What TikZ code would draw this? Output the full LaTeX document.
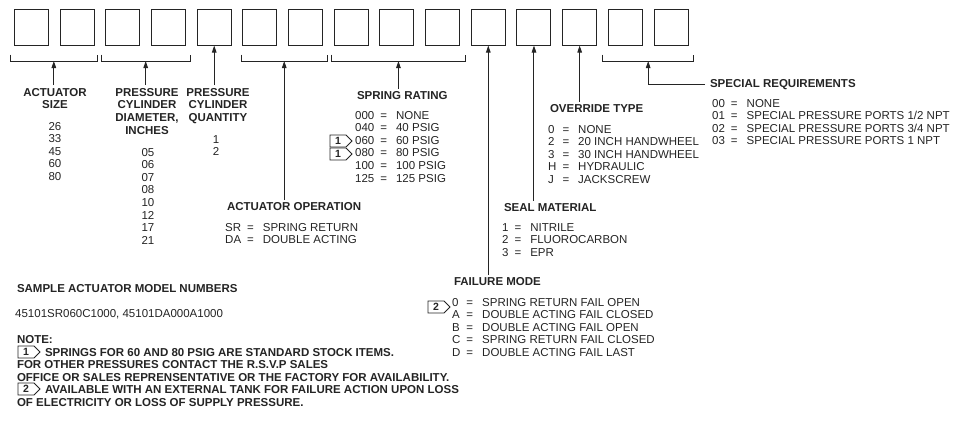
\documentclass[tikz,border=0pt]{standalone}
\usepackage{fontspec}
\setmainfont{Liberation Sans}
\usetikzlibrary{arrows.meta,shapes.symbols}
\definecolor{ink}{HTML}{242424}

\tikzset{
  codebox/.style={draw=ink, line width=1pt, minimum width=34pt, minimum height=36pt, inner sep=0pt},
  brace/.style={draw=ink, line width=1pt},
  lead/.style={draw=ink, line width=1pt, -{Triangle[length=7pt,width=4.5pt]}},
  head/.style={inner sep=0pt, outer sep=2pt, text=ink, font=\fontsize{11.5}{12.8}\selectfont\bfseries},
  list/.style={inner sep=0pt, text=ink, font=\fontsize{11.5}{12.6}\selectfont},
  badge/.style={draw=ink, line width=0.8pt, signal, signal to=east, signal pointer angle=90,
    inner xsep=3pt, inner ysep=0.5pt, minimum width=22pt, minimum height=12pt, text=ink,
    font=\fontsize{10.5}{10.5}\selectfont\bfseries},
}
\newcommand{\eqs}{\hspace{6pt}=\hspace{9pt}}

\begin{document}
\begin{tikzpicture}[x=1pt,y=-1pt]
\useasboundingbox (0,0) rectangle (956,434);

% code boxes
\foreach \i in {1,...,15}
  \node[codebox] (b\i) at ({31.5+(\i-1)*45.68},27) {};

% brackets under the grouped boxes
\draw[brace] ([xshift=-4pt,yshift=-9pt]b1.south west) -- ++(0,6.5) -| coordinate[pos=0.25] (br1) ([xshift=3pt,yshift=-9pt]b2.south east);
\draw[brace] ([xshift=-4pt,yshift=-9pt]b3.south west) -- ++(0,6.5) -| coordinate[pos=0.25] (br2) ([xshift=4pt,yshift=-9pt]b4.south east);
\draw[brace] ([xshift=-1pt,yshift=-9pt]b6.south west) -- ++(0,6.5) -| coordinate[pos=0.25] (br3) ([xshift=4pt,yshift=-9pt]b7.south east);
\draw[brace] ([xshift=-2pt,yshift=-9pt]b8.south west) -- ++(0,6.5) -| coordinate[pos=0.25] (br4) ([xshift=5pt,yshift=-9pt]b10.south east);
\draw[brace] ([xshift=-5pt,yshift=-9pt]b14.south west) -- ++(0,6.5) -| coordinate[pos=0.25] (br5) ([xshift=5pt,yshift=-9pt]b15.south east);

% actuator size
\node[head, anchor=base] (hsize) at (55,96) {\begin{tabular}[t]{@{}c@{}}ACTUATOR\\SIZE\end{tabular}};
\node[list, anchor=base] (vsize) at (55,130) {\begin{tabular}[t]{@{}c@{}}26\\33\\45\\60\\80\end{tabular}};

% cylinder diameter
\node[head, anchor=base] (hdiam) at (147,96) {\begin{tabular}[t]{@{}c@{}}PRESSURE\\CYLINDER\\DIAMETER,\\INCHES\end{tabular}};
\node[list, anchor=base] (vdiam) at (148,156) {\begin{tabular}[t]{@{}c@{}}05\\06\\07\\08\\10\\12\\17\\21\end{tabular}};

% cylinder quantity
\node[head, anchor=base] (hqty) at (218,96) {\begin{tabular}[t]{@{}c@{}}PRESSURE\\CYLINDER\\QUANTITY\end{tabular}};
\node[list, anchor=base] (vqty) at (216,143) {\begin{tabular}[t]{@{}c@{}}1\\2\end{tabular}};

% actuator operation
\node[head, anchor=base west] (hoper) at (225,210) {ACTUATOR OPERATION};
\node[list, anchor=base west] (voper) at (225,231) {\begin{tabular}[t]{@{}l@{\eqs}l@{}}SR & SPRING RETURN\\DA & DOUBLE ACTING\end{tabular}};

% spring rating
\node[head, anchor=base west] (hspring) at (355,99) {SPRING RATING};
\node[list, anchor=base west] (vspring) at (355,119) {\begin{tabular}[t]{@{}l@{\eqs}l@{}}000 & NONE\\040 & 40 PSIG\\060 & 60 PSIG\\080 & 80 PSIG\\100 & 100 PSIG\\125 & 125 PSIG\end{tabular}};
\node[badge] (n1a) at (338,141) {1};
\node[badge] (n1b) at (338,154) {1};

% override type
\node[head, anchor=base west] (hover) at (548,112) {OVERRIDE TYPE};
\node[list, anchor=base west] (vover) at (548,133) {\begin{tabular}[t]{@{}l@{\eqs}l@{}}0 & NONE\\2 & 20 INCH HANDWHEEL\\3 & 30 INCH HANDWHEEL\\H & HYDRAULIC\\J & JACKSCREW\end{tabular}};

% seal material
\node[head, anchor=base west] (hseal) at (502,211) {SEAL MATERIAL};
\node[list, anchor=base west] (vseal) at (502,231) {\begin{tabular}[t]{@{}l@{\eqs}l@{}}1 & NITRILE\\2 & FLUOROCARBON\\3 & EPR\end{tabular}};

% failure mode
\node[head, anchor=base west] (hfail) at (452,285) {FAILURE MODE};
\node[list, anchor=base west] (vfail) at (452,306) {\begin{tabular}[t]{@{}l@{\eqs}l@{}}0 & SPRING RETURN FAIL OPEN\\A & DOUBLE ACTING FAIL CLOSED\\B & DOUBLE ACTING FAIL OPEN\\C & SPRING RETURN FAIL CLOSED\\D & DOUBLE ACTING FAIL LAST\end{tabular}};
\node[badge] (n2) at (436,307) {2};

% special requirements
\node[head, anchor=base west] (hspec) at (708,87) {SPECIAL REQUIREMENTS};
\node[list, anchor=base west] (vspec) at (712,107) {\begin{tabular}[t]{@{}l@{\eqs}l@{}}00 & NONE\\01 & SPECIAL PRESSURE PORTS 1/2 NPT\\02 & SPECIAL PRESSURE PORTS 3/4 NPT\\03 & SPECIAL PRESSURE PORTS 1 NPT\end{tabular}};

% leaders
\draw[lead] (br1 |- hsize.north) -- (br1);
\draw[lead] (br2 |- hdiam.north) -- (br2);
\draw[lead] (b5.south |- hqty.north) -- (b5.south);
\draw[lead] (br3 |- hoper.north) -- (br3);
\draw[lead] (br4 |- hspring.north) -- (br4);
\draw[lead] (b11.south |- hfail.north) -- (b11.south);
\draw[lead] (b12.south |- hseal.north) -- (b12.south);
\draw[lead] (b13.south |- hover.north) -- (b13.south);
\draw[lead] ([xshift=-3pt]hspec.west) -| (br5);

% sample numbers
\node[head, anchor=base west] (hsample) at (15,292) {SAMPLE ACTUATOR MODEL NUMBERS};
\node[list, anchor=base west] (vsample) at (15,317) {45101SR060C1000, 45101DA000A1000};

% notes
\node[head, anchor=base west] (hnote) at (15,343) {NOTE:};
\node[badge] (nb1) at (26,352) {1};
\node[head, anchor=base west] (note1) at (43,356) {SPRINGS FOR 60 AND 80 PSIG ARE STANDARD STOCK ITEMS.};
\node[head, anchor=base west] (note1b) at (15,368.5) {\begin{tabular}[t]{@{}l@{}}FOR OTHER PRESSURES CONTACT THE R.S.V.P SALES\\OFFICE OR SALES REPRENSENTATIVE OR THE FACTORY FOR AVAILABILITY.\end{tabular}};
\node[badge] (nb2) at (26,389) {2};
\node[head, anchor=base west] (note2) at (43,393.5) {AVAILABLE WITH AN EXTERNAL TANK FOR FAILURE ACTION UPON LOSS};
\node[head, anchor=base west] (note2b) at (15,406) {OF ELECTRICITY OR LOSS OF SUPPLY PRESSURE.};
\end{tikzpicture}
\end{document}
